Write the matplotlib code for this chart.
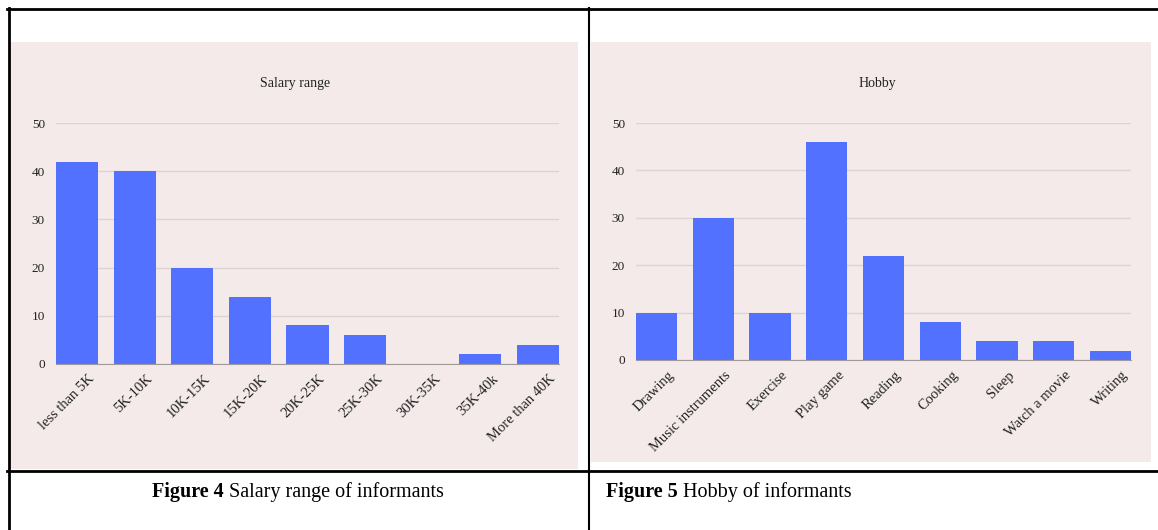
import matplotlib.pyplot as plt
from matplotlib.lines import Line2D
from matplotlib.patches import Rectangle
from matplotlib.transforms import ScaledTranslation

salary_ranges = ["less than 5K", "5K-10K", "10K-15K", "15K-20K", "20K-25K",
                 "25K-30K", "30K-35K", "35K-40k", "More than 40K"]
salary_counts = [42, 40, 20, 14, 8, 6, 0, 2, 4]

hobbies = ["Drawing", "Music instruments", "Exercise", "Play game", "Reading",
           "Cooking", "Sleep", "Watch a movie", "Writing"]
hobby_counts = [10, 30, 10, 46, 22, 8, 4, 4, 2]

y_ticks = [0, 10, 20, 30, 40, 50]

W, H = 1158, 530
BAR = "#5271ff"
PANEL = "#f4eaea"
GRID = "#dcd3d3"
SERIF = ["Liberation Serif", "DejaVu Serif"]

plt.rcParams["font.family"] = SERIF

fig = plt.figure(figsize=(W / 100, H / 100), dpi=100)


def px_rect(x0, y0, x1, y1):
    # pixel box (top-left origin) -> figure fraction [left, bottom, width, height]
    return [x0 / W, 1 - y1 / H, (x1 - x0) / W, (y1 - y0) / H]


def hline(y, x0, x1, lw):
    fig.add_artist(Line2D([x0 / W, x1 / W], [1 - y / H, 1 - y / H], color="black", lw=lw))


def vline(x, y0, y1, lw):
    fig.add_artist(Line2D([x / W, x / W], [1 - y0 / H, 1 - y1 / H], color="black", lw=lw))


# pink chart backgrounds
for box in [(9, 42, 578, 469), (591, 42, 1151, 462)]:
    l, b, w, h = px_rect(*box)
    fig.add_artist(Rectangle((l, b), w, h, transform=fig.transFigure,
                             facecolor=PANEL, edgecolor="none", zorder=0))


def bar_chart(rect, labels, values, title, title_x):
    ax = fig.add_axes(px_rect(*rect))
    ax.set_facecolor("none")
    x = range(len(labels))
    ax.bar(x, values, width=0.73, color=BAR, zorder=3)
    ax.set_xlim(-0.365, len(labels) - 1 + 0.365)
    ax.set_ylim(0, 50)
    ax.set_yticks(y_ticks)
    ax.yaxis.grid(True, color=GRID, lw=1)
    ax.set_axisbelow(True)
    for s in ["top", "right", "left"]:
        ax.spines[s].set_visible(False)
    ax.spines["bottom"].set_color("#a09a9a")
    ax.spines["bottom"].set_zorder(4)
    ax.tick_params(length=0, labelsize=9.5, colors="#222222", pad=8)
    ax.tick_params(axis="x", pad=6)
    ax.set_xticks(list(x))
    ax.set_xticklabels(labels, rotation=45, ha="right", va="top",
                       rotation_mode="anchor", fontsize=10.5)
    # rotated labels sit a little right of the bar centre
    shift = ScaledTranslation(11 / 100, 0, fig.dpi_scale_trans)
    for lab in ax.get_xticklabels():
        lab.set_transform(lab.get_transform() + shift)
    fig.text(title_x / W, 1 - 84 / H, title, ha="center", va="center",
             fontsize=10, color="#222222")
    return ax


bar_chart((56, 123, 559, 364), salary_ranges, salary_counts, "Salary range", 295)
bar_chart((636, 123, 1131, 360), hobbies, hobby_counts, "Hobby", 877)

# table borders
hline(9, 7.5, W, 2)
hline(471, 7.5, W, 2)
vline(8.5, 8, H, 2)
vline(589, 8, H, 1.5)

# captions: bold figure number followed by regular text
fig.canvas.draw()
renderer = fig.canvas.get_renderer()


def caption(x, y, num, rest, center):
    t1 = fig.text(0, 0, num, fontsize=14.5, fontweight="bold", va="center")
    t2 = fig.text(0, 0, rest, fontsize=14.5, va="center")
    w1 = t1.get_window_extent(renderer).width
    w2 = t2.get_window_extent(renderer).width
    x0 = x - (w1 + w2) / 2 if center else x
    t1.set_position((x0 / W, 1 - y / H))
    t2.set_position(((x0 + w1) / W, 1 - y / H))


caption(298, 492, "Figure 4", " Salary range of informants", True)
caption(606, 492, "Figure 5", " Hobby of informants", False)

fig.savefig("out.png", dpi=100)
